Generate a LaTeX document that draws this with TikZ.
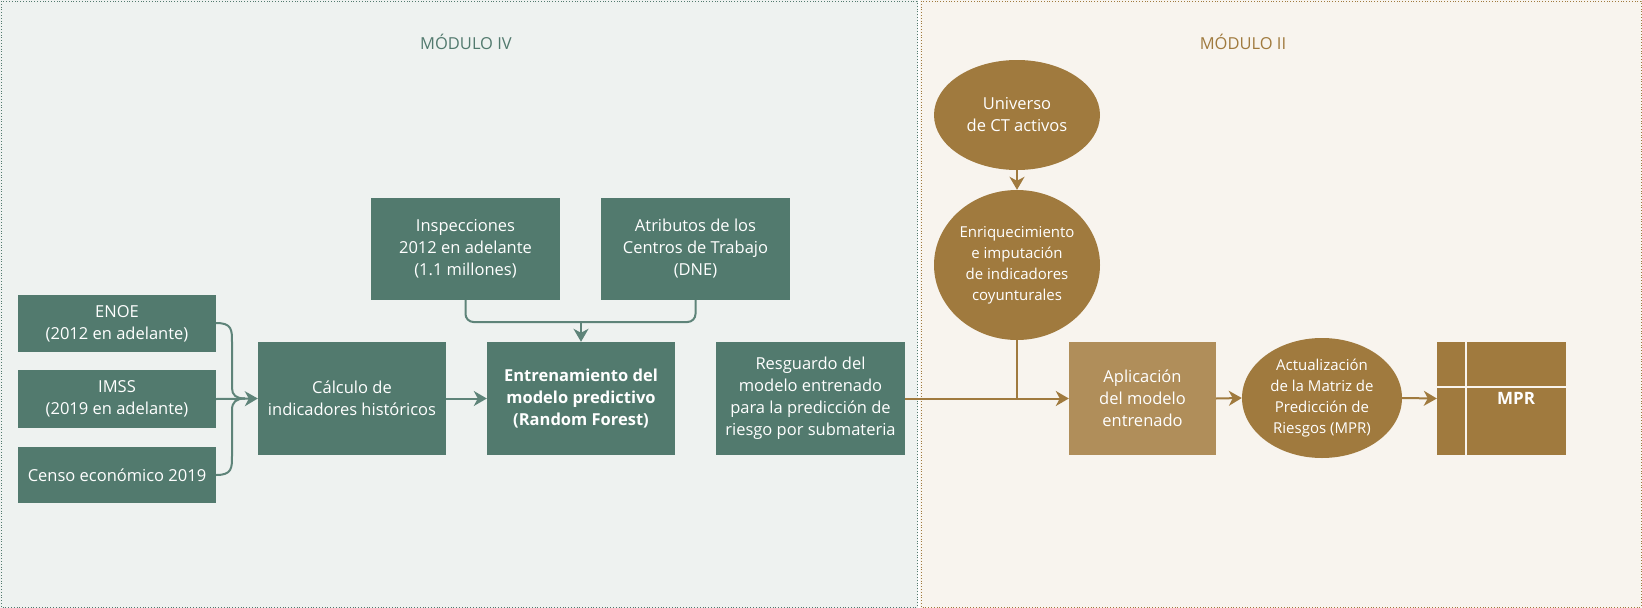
\documentclass[tikz,border=0pt]{standalone}
\usepackage{fontspec}
\setmainfont{Open Sans}
\usetikzlibrary{arrows.meta,shapes.geometric}
\definecolor{gbg}{HTML}{EEF2F0}
\definecolor{tbg}{HTML}{F8F4EE}
\definecolor{gr}{HTML}{527A6E}
\definecolor{tn}{HTML}{A07A3E}
\definecolor{tnl}{HTML}{B08E5A}
\definecolor{gline}{HTML}{5E8479}
\tikzset{
 gbox/.style={fill=gr,text=white,align=center,font=\fontsize{16.5}{22}\selectfont,inner sep=0pt},
 tell/.style={ellipse,fill=tn,text=white,align=center,font=\fontsize{16.5}{22}\selectfont,inner sep=0pt},
 garr/.style={draw=gline,line width=2pt,-{Stealth[length=13pt,width=15pt,inset=4pt]}},
 gln/.style={draw=gline,line width=2pt,rounded corners=8pt},
 tarr/.style={draw=tn,line width=2pt,-{Stealth[length=13pt,width=15pt,inset=4pt]}},
}
\begin{document}
\begin{tikzpicture}[x=1pt,y=-1pt]
\useasboundingbox (0,0) rectangle (1642,608);
\fill[gbg] (0,0) rectangle (918,608);
\fill[tbg] (920,0) rectangle (1642,608);
\draw[gr,dotted,line width=0.8pt] (1,1) rectangle (917,607);
\draw[tn,dotted,line width=0.8pt] (921,1) rectangle (1641,607);
\node[text=gr,font=\fontsize{16.5}{20}\selectfont] (t1) at (466,42) {MÓDULO IV};
\node[text=tn,font=\fontsize{16.5}{20}\selectfont] (t2) at (1243,42) {MÓDULO II};
\node[gbox,minimum width=198pt,minimum height=57pt] (enoe) at (117,323.5) {ENOE\\(2012 en adelante)};
\node[gbox,minimum width=198pt,minimum height=58pt] (imss) at (117,399) {IMSS\\(2019 en adelante)};
\node[gbox,minimum width=198pt,minimum height=56pt] (censo) at (117,475) {Censo económico 2019};
\node[gbox,minimum width=188pt,minimum height=113pt] (calc) at (352,398.5) {Cálculo de\\indicadores históricos};
\node[gbox,minimum width=188pt,minimum height=113pt,font=\fontsize{16.5}{22}\selectfont\bfseries] (entr) at (581,398.5) {Entrenamiento del\\modelo predictivo\\(Random Forest)};
\node[gbox,minimum width=189pt,minimum height=113pt] (resg) at (810.5,398.5) {Resguardo del\\modelo entrenado\\para la predicción de\\riesgo por submateria};
\node[gbox,minimum width=189pt,minimum height=102pt] (insp) at (465.5,249) {Inspecciones\\2012 en adelante\\(1.1 millones)};
\node[gbox,minimum width=189pt,minimum height=102pt] (atr) at (695.5,249) {Atributos de los\\Centros de Trabajo\\(DNE)};
\node[tell,minimum width=166pt,minimum height=110pt] (univ) at (1017,115) {Universo\\de CT activos};
\node[tell,minimum width=166pt,minimum height=150pt,font=\fontsize{15}{21}\selectfont] (enr) at (1017,265) {Enriquecimiento\\e imputación\\de indicadores\\coyunturales};
\node[fill=tnl,text=white,align=center,font=\fontsize{16.5}{22}\selectfont,minimum width=147pt,minimum height=113pt,inner sep=0pt] (apl) at (1142.5,398.5) {Aplicación\\del modelo\\entrenado};
\node[tell,minimum width=160pt,minimum height=120pt,font=\fontsize{15}{21}\selectfont] (act) at (1322,398) {Actualización\\de la Matriz de\\Predicción de\\Riesgos (MPR)};
\node[fill=tn,minimum width=129pt,minimum height=113pt,inner sep=0pt] (mpr) at (1501.5,398.5) {};
\draw[tbg,line width=1.5pt] (1466,342) -- (1466,455) (1437,387) -- (1566,387);
\node[text=white,font=\fontsize{17}{20}\selectfont\bfseries] (mprt) at (1516,398) {MPR};
% left connectors
\coordinate (jn) at (245,398.5);
\draw[gln,-] (enoe.east|-0,323) .. controls (232,323) and (232,330) .. (232,350) -- (232,380) .. controls (232,395) and (236,398.5) .. (jn);
\draw[gln,-] (censo.east|-0,475) .. controls (232,475) and (232,468) .. (232,448) -- (232,418) .. controls (232,402) and (236,398.5) .. (jn);
\draw[garr] (imss.east) -- (calc.west);
\draw[garr] (calc.east) -- (entr.west);
\coordinate (mj) at (581,322);
\draw[gln] (insp.south) |- (mj);
\draw[gln] (atr.south) |- (mj);
\draw[garr] (mj) -- (entr.north);
\draw[tarr] (resg.east) -- (apl.west);
\draw[draw=tn,line width=2pt] (enr.south) -- (1017,398.5);
\draw[tarr] (univ.south) -- (enr.north);
\draw[tarr] (apl.east) -- (act.west);
\draw[tarr] (act.east) -- (mpr.west);
\end{tikzpicture}
\end{document}
